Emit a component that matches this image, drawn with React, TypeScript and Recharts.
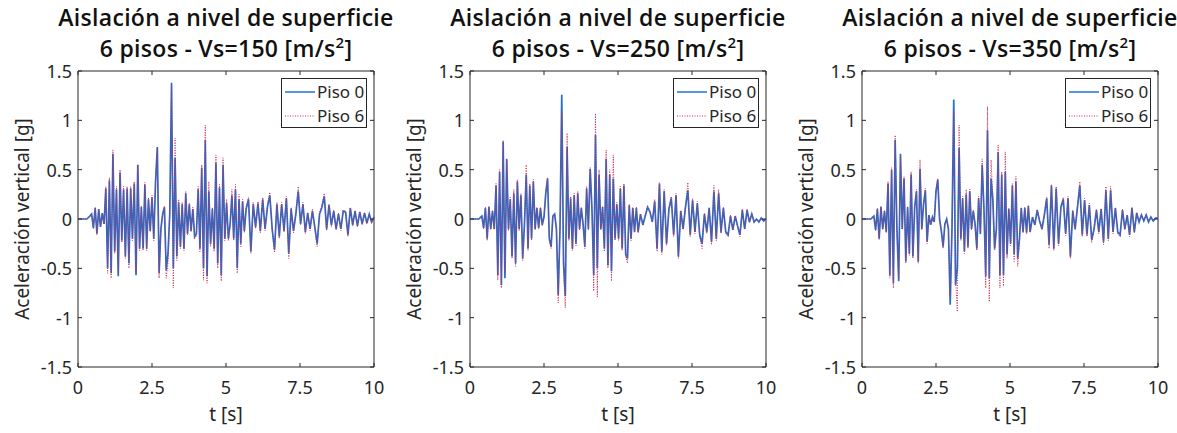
import React from 'react'
import { LineChart, Line, XAxis, YAxis, ReferenceArea, Legend } from 'recharts'

// tiempo [s] (picos)
const tiempo = [
  0, 0.3, 0.4, 0.46, 0.52, 0.58, 0.64, 0.7, 0.76, 0.82, 0.88, 0.94,
  1.0, 1.06, 1.12, 1.18, 1.24, 1.3, 1.36, 1.42, 1.48, 1.54, 1.6, 1.66, 1.72, 1.78, 1.84, 1.9, 1.96,
  2.02, 2.08, 2.14, 2.2, 2.26, 2.32, 2.38, 2.44, 2.5, 2.56, 2.62, 2.68, 2.74, 2.8, 2.86, 2.92, 2.98,
  3.04, 3.1, 3.16, 3.22, 3.28, 3.34, 3.4, 3.46, 3.52, 3.58, 3.64, 3.7, 3.76, 3.82, 3.88, 3.94,
  4.0, 4.06, 4.12, 4.18, 4.24, 4.3, 4.36, 4.42, 4.48, 4.54, 4.6, 4.66, 4.72, 4.78, 4.84, 4.9, 4.96,
  5.02, 5.08, 5.14, 5.2, 5.26, 5.32, 5.38, 5.44, 5.5, 5.56, 5.62, 5.68,
  5.76, 5.84, 5.92, 6.0, 6.08, 6.16, 6.24, 6.32, 6.4, 6.48, 6.56, 6.64, 6.72, 6.8, 6.88, 6.96,
  7.04, 7.12, 7.2, 7.28, 7.36, 7.44, 7.52, 7.6, 7.68, 7.76, 7.84, 7.92,
  8.0, 8.08, 8.16, 8.24, 8.32, 8.4, 8.48, 8.56, 8.64, 8.72, 8.8, 8.88, 8.96,
  9.04, 9.12, 9.2, 9.28, 9.36, 9.44, 9.52, 9.6, 9.68, 9.76, 9.84, 9.92, 10,
]

// Vs = 150
const vs150Piso0 = [
  0, 0, 0.03, 0.05, -0.09, 0.11, -0.15, 0.1, -0.08, 0.06, -0.05, 0.31,
  -0.5, 0.39, -0.55, 0.66, -0.33, 0.3, -0.58, 0.47, -0.22, 0.3, -0.38, 0.31, -0.45, 0.31, -0.2, 0.36, -0.57,
  0.55, -0.3, 0.12, -0.3, 0.35, -0.3, 0.2, -0.12, 0.22, -0.2, 0.38, 0.73, -0.55, -0.1, 0.05, 0.12, -0.52,
  -0.35, 0.05, 1.38, -0.5, 0.62, -0.38, 0.17, -0.28, 0.15, -0.3, 0.26, -0.15, 0.15, -0.12, 0.1, -0.18,
  -0.15, 0.3, -0.3, 0.52, -0.5, 0.8, -0.58, 0.28, -0.25, 0.1, -0.3, 0.57, -0.45, 0.32, -0.57, 0.55, -0.2,
  0.16, -0.2, -0.05, 0.24, -0.2, 0.3, -0.5, 0.2, -0.25, 0.18, -0.12, 0.1,
  0.2, -0.33, 0.15, -0.08, 0.16, -0.12, 0.2, -0.1, 0.12, 0.24, -0.1, -0.31, 0.15, -0.18, 0.15, -0.12,
  0.21, -0.35, 0.1, -0.12, 0.05, 0.28, -0.05, 0.15, -0.13, 0.06, -0.1, 0.08,
  -0.08, -0.25, 0.05, 0.12, 0.23, -0.1, 0.14, -0.06, 0.08, -0.1, 0.05, -0.1, 0.08,
  0.07, -0.16, 0.11, -0.06, 0.08, -0.07, 0.07, -0.05, 0.06, -0.04, 0.05, -0.03, 0.02,
]
const vs150Piso6 = [
  0, 0, 0.03, 0.05, -0.1, 0.12, -0.16, 0.1, -0.08, 0.06, -0.05, 0.33,
  -0.55, 0.42, -0.6, 0.7, -0.35, 0.33, -0.55, 0.5, -0.24, 0.33, -0.4, 0.33, -0.5, 0.33, -0.22, 0.38, -0.55,
  0.55, -0.32, 0.13, -0.32, 0.37, -0.32, 0.22, -0.13, 0.24, -0.22, 0.4, 0.72, -0.6, -0.12, 0.05, 0.13, -0.6,
  -0.45, 0.05, 1.35, -0.7, 0.82, -0.42, 0.2, -0.3, 0.17, -0.32, 0.28, -0.16, 0.16, -0.13, 0.12, -0.2,
  -0.17, 0.33, -0.33, 0.55, -0.62, 0.95, -0.65, 0.38, -0.28, 0.12, -0.33, 0.65, -0.5, 0.35, -0.63, 0.62, -0.22,
  0.2, -0.22, -0.06, 0.3, -0.22, 0.35, -0.55, 0.25, -0.28, 0.2, -0.14, 0.12,
  0.22, -0.35, 0.17, -0.1, 0.18, -0.14, 0.22, -0.12, 0.14, 0.27, -0.12, -0.34, 0.17, -0.2, 0.17, -0.13,
  0.23, -0.4, 0.12, -0.14, 0.06, 0.33, -0.06, 0.17, -0.15, 0.07, -0.12, 0.1,
  -0.1, -0.28, 0.06, 0.14, 0.26, -0.12, 0.15, -0.08, 0.09, -0.11, 0.06, -0.12, 0.09,
  0.08, -0.18, 0.12, -0.07, 0.09, -0.08, 0.08, -0.06, 0.07, -0.05, 0.05, -0.04, 0.03,
]

// Vs = 250
const vs250Piso0 = [
  0, 0, 0.03, -0.09, 0.11, -0.2, 0.12, -0.1, 0.08, -0.1, 0.34, -0.57,
  0.48, -0.67, 0.78, -0.6, 0.61, -0.1, 0.2, -0.38, 0.26, -0.45, 0.38, -0.1, 0.24, -0.4, -0.05, 0.45, -0.3,
  0.34, -0.2, 0.38, -0.1, 0.11, -0.09, 0.11, -0.06, 0.02, 0.26, 0.41, -0.2, -0.28, 0.03, 0.05, -0.1, -0.77,
  -0.1, 1.26, -0.45, -0.78, 0.73, -0.2, 0.21, -0.3, 0.24, -0.25, 0.26, -0.1, 0.11, -0.05, -0.28, 0.31,
  -0.1, 0.51, 0.1, -0.57, 0.85, -0.5, 0.45, -0.1, 0.12, -0.3, 0.61, -0.47, 0.45, -0.53, 0.41, -0.2, 0.15,
  -0.2, 0.31, -0.3, 0.34, -0.36, -0.4, 0.14, -0.2, 0.11, -0.13, 0.11, -0.13,
  0.05, -0.06, 0.03, 0.12, 0.07, -0.03, 0.18, -0.3, 0.36, -0.33, 0.28, -0.25, 0.1, 0.21, -0.16, 0.24,
  -0.38, 0.08, -0.1, 0.12, 0.29, -0.16, 0.19, -0.13, 0.16, -0.16, -0.25, 0.05,
  -0.13, 0.11, -0.23, 0.28, -0.2, 0.26, -0.13, 0.11, -0.13, -0.16, 0.03, -0.11, 0.03,
  -0.07, -0.16, 0.09, -0.1, 0.09, -0.03, 0.05, -0.03, 0, -0.03, 0.01, -0.02, 0,
]
const vs250Piso6 = [
  0, 0, 0.03, -0.1, 0.12, -0.22, 0.13, -0.11, 0.09, -0.11, 0.36, -0.62,
  0.5, -0.7, 0.8, -0.55, 0.6, -0.12, 0.22, -0.4, 0.3, -0.48, 0.4, -0.12, 0.26, -0.42, -0.06, 0.55, -0.32,
  0.36, -0.22, 0.4, -0.11, 0.12, -0.1, 0.12, -0.07, 0.02, 0.28, 0.42, -0.22, -0.3, 0.03, 0.05, -0.11, -0.85,
  -0.1, 1.1, -0.5, -0.9, 0.87, -0.22, 0.23, -0.32, 0.26, -0.27, 0.28, -0.11, 0.12, -0.06, -0.3, 0.33,
  -0.11, 0.52, 0.12, -0.73, 1.07, -0.79, 0.5, -0.11, 0.13, -0.33, 0.7, -0.5, 0.5, -0.63, 0.65, -0.22, 0.17,
  -0.22, 0.33, -0.32, 0.36, -0.38, -0.45, 0.15, -0.22, 0.12, -0.14, 0.12, -0.14,
  0.05, -0.06, 0.04, 0.13, 0.08, -0.03, 0.2, -0.33, 0.37, -0.36, 0.3, -0.27, 0.11, 0.23, -0.18, 0.26,
  -0.4, 0.09, -0.11, 0.14, 0.37, -0.18, 0.21, -0.15, 0.18, -0.18, -0.3, 0.06,
  -0.15, 0.12, -0.26, 0.34, -0.22, 0.3, -0.15, 0.12, -0.15, -0.18, 0.04, -0.12, 0.03,
  -0.08, -0.18, 0.1, -0.11, 0.1, -0.04, 0.06, -0.04, 0, -0.03, 0.01, -0.02, 0,
]

// Vs = 350
const vs350Piso0 = [
  0, 0, 0.03, -0.11, 0.1, -0.2, 0.12, -0.1, 0.08, -0.13, 0.36, -0.57,
  0.5, -0.65, 0.8, -0.1, -0.63, 0.66, -0.1, 0.41, -0.43, 0.12, -0.35, 0.45, -0.38, 0.12, 0.28, -0.43, 0.51,
  -0.1, 0.15, 0.29, -0.23, 0.04, -0.06, 0.02, -0.03, 0.28, 0.4, 0, -0.12, -0.28, -0.05, 0, -0.1, -0.87,
  -0.1, 1.21, -0.67, -0.5, 0.72, -0.2, 0.21, -0.33, 0.25, -0.28, 0.28, -0.1, 0.08, -0.05, -0.3, 0.21,
  -0.15, 0.55, 0.1, -0.58, 0.9, -0.6, 0.41, 0.2, -0.3, -0.1, 0.68, -0.57, 0.45, -0.57, 0.48, -0.36, 0.1,
  -0.25, 0.34, -0.36, 0.38, -0.4, -0.2, 0.11, -0.13, 0.11, -0.14, 0.13, -0.13,
  0.02, -0.06, 0.09, -0.02, -0.1, 0.04, 0.21, -0.26, 0.34, -0.3, 0.31, -0.25, 0.12, 0.2, -0.15, 0.21,
  -0.38, 0.08, -0.1, 0.12, 0.34, -0.16, 0.19, -0.16, 0.14, -0.21, -0.1, 0.09,
  -0.13, 0.1, -0.23, 0.29, -0.2, 0.29, -0.13, 0.11, -0.13, -0.16, 0.09, -0.1, 0.04,
  -0.16, 0.11, -0.13, 0.06, -0.03, 0.04, -0.02, 0.04, -0.03, 0.02, -0.02, 0.01, 0.01,
]
const vs350Piso6 = [
  0, 0, 0.03, -0.12, 0.11, -0.21, 0.13, -0.11, 0.09, -0.14, 0.38, -0.6,
  0.52, -0.7, 0.85, -0.12, -0.6, 0.63, -0.11, 0.43, -0.45, 0.13, -0.37, 0.48, -0.4, 0.13, 0.3, -0.45, 0.6,
  -0.11, 0.16, 0.31, -0.25, 0.04, -0.06, 0.02, -0.03, 0.29, 0.41, 0, -0.13, -0.3, -0.05, 0, -0.11, -0.8,
  -0.1, 1.1, -0.6, -0.94, 0.95, -0.22, 0.23, -0.35, 0.3, -0.3, 0.3, -0.11, 0.09, -0.06, -0.32, 0.23,
  -0.16, 0.61, 0.12, -0.7, 1.14, -0.84, 0.6, 0.22, -0.32, -0.11, 0.75, -0.7, 0.48, -0.68, 0.68, -0.4, 0.11,
  -0.27, 0.36, -0.43, 0.43, -0.48, -0.22, 0.12, -0.14, 0.12, -0.15, 0.14, -0.14,
  0.02, -0.06, 0.1, -0.02, -0.11, 0.05, 0.22, -0.3, 0.35, -0.32, 0.33, -0.27, 0.13, 0.22, -0.17, 0.23,
  -0.4, 0.09, -0.11, 0.13, 0.38, -0.18, 0.21, -0.18, 0.16, -0.24, -0.11, 0.1,
  -0.15, 0.11, -0.26, 0.33, -0.22, 0.33, -0.15, 0.12, -0.15, -0.18, 0.1, -0.11, 0.04,
  -0.18, 0.12, -0.14, 0.07, -0.03, 0.05, -0.02, 0.05, -0.03, 0.02, -0.02, 0.01, 0.01,
]

const xTicks = [0, 2.5, 5, 7.5, 10]
const yTicks = [-1.5, -1, -0.5, 0, 0.5, 1, 1.5]
const velocidades = ['150', '250', '350']
const piso0Series = [vs150Piso0, vs250Piso0, vs350Piso0]
const piso6Series = [vs150Piso6, vs250Piso6, vs350Piso6]

const AXIS = '#262626'
const BLUE = '#1f72d4'
const RED = '#cc2a4a'
const FONT = '"Noto Sans", "Open Sans", sans-serif'

const W = 384
const H = 433
const M = { top: 71, right: 10, bottom: 36, left: 38 }
const Y_AXIS_W = 40
const X_AXIS_H = 30
const PL = M.left + Y_AXIS_W
const PR = W - M.right
const PT = M.top
const PB = H - M.bottom - X_AXIS_H
const PANEL_LEFT = [0, 392, 784]

function XTick({ x, payload }: any) {
  return (
    <g>
      <line x1={x} x2={x} y1={PB} y2={PB - 4} stroke={AXIS} />
      <line x1={x} x2={x} y1={PT} y2={PT + 4} stroke={AXIS} />
      <text x={x} y={387} textAnchor="middle" dominantBaseline="central" fill={AXIS} fontSize={18}>
        {payload.value}
      </text>
    </g>
  )
}

function YTick({ y, payload }: any) {
  return (
    <g>
      <line x1={PL} x2={PL + 4} y1={y} y2={y} stroke={AXIS} />
      <line x1={PR} x2={PR - 4} y1={y} y2={y} stroke={AXIS} />
      <text x={PL - 6} y={y} textAnchor="end" dominantBaseline="central" fill={AXIS} fontSize={18}>
        {payload.value}
      </text>
    </g>
  )
}

function LegendBox() {
  const rows = [
    { name: 'Piso 0', color: BLUE, dash: undefined, width: 1.5 },
    { name: 'Piso 6', color: RED, dash: '1 1.5', width: 1 },
  ]
  return (
    <div style={{ border: `1px solid ${AXIS}`, background: '#fff', padding: '1px 0 0 2px', boxSizing: 'border-box', width: 86, height: 50 }}>
      {rows.map((r) => (
        <div key={r.name} style={{ display: 'flex', alignItems: 'center', height: 24 }}>
          <svg width={31} height={10}>
            <line x1={1} x2={31} y1={5} y2={5} stroke={r.color} strokeWidth={r.width} strokeDasharray={r.dash} />
          </svg>
          <span style={{ fontSize: 17, color: AXIS, marginLeft: 2, fontFamily: FONT, lineHeight: '24px' }}>{r.name}</span>
        </div>
      ))}
    </div>
  )
}

function Panel({ idx }: { idx: number }) {
  const data = tiempo.map((t, i) => ({ t, p0: piso0Series[idx][i], p6: piso6Series[idx][i] }))
  return (
    <div style={{ position: 'absolute', left: PANEL_LEFT[idx], top: 0, width: W, height: H }}>
      <div
        style={{
          position: 'absolute',
          left: PL - 100,
          width: PR - PL + 200,
          top: 2,
          textAlign: 'center',
          fontSize: 23,
          fontWeight: 600,
          letterSpacing: 0.3,
          fontFamily: '"Open Sans", "Noto Sans", sans-serif',
          lineHeight: '31px',
          color: '#111',
          zIndex: 2,
        }}
      >
        <div>Aislación a nivel de superficie</div>
        <div>
          6 pisos - Vs={velocidades[idx]} [m/s<sup style={{ fontSize: 15, lineHeight: 0 }}>2</sup>]
        </div>
      </div>
      <LineChart width={W} height={H} data={data} margin={M}>
        <XAxis
          dataKey="t"
          type="number"
          domain={[0, 10]}
          ticks={xTicks}
          height={X_AXIS_H}
          axisLine={false}
          tickLine={false}
          tick={<XTick />}
          interval={0}
          label={() => (
            <text x={(PL + PR) / 2} y={414} textAnchor="middle" dominantBaseline="central" fill={AXIS} fontSize={19}>
              t [s]
            </text>
          )}
        />
        <YAxis
          type="number"
          domain={[-1.5, 1.5]}
          ticks={yTicks}
          width={Y_AXIS_W}
          axisLine={false}
          tickLine={false}
          tick={<YTick />}
          interval={0}
          label={() => (
            <text
              x={22}
              y={(PT + PB) / 2}
              textAnchor="middle"
              dominantBaseline="central"
              fill={AXIS}
              fontSize={19}
              transform={`rotate(-90 22 ${(PT + PB) / 2})`}
            >
              Aceleración vertical [g]
            </text>
          )}
        />
        <Line type="linear" dataKey="p0" name="Piso 0" stroke={BLUE} strokeWidth={1.7} dot={false} isAnimationActive={false} />
        <Line
          type="linear"
          dataKey="p6"
          name="Piso 6"
          stroke={RED}
          strokeWidth={1}
          strokeDasharray="1 1.5"
          dot={false}
          isAnimationActive={false}
        />
        <ReferenceArea x1={0} x2={10} y1={-1.5} y2={1.5} fill="none" stroke={AXIS} strokeWidth={1} fillOpacity={0} />
        <Legend
          layout="horizontal"
          verticalAlign="middle"
          align="center"
          wrapperStyle={{ left: PR - 93, top: PT + 7, width: 86, height: 50 }}
          content={() => <LegendBox />}
        />
      </LineChart>
    </div>
  )
}

export default function App() {
  return (
    <div
      style={{
        position: 'absolute',
        left: 0,
        top: 0,
        width: 1177,
        height: 433,
        background: '#fff',
        fontFamily: FONT,
      }}
    >
      {[0, 1, 2].map((i) => (
        <Panel key={i} idx={i} />
      ))}
    </div>
  )
}
